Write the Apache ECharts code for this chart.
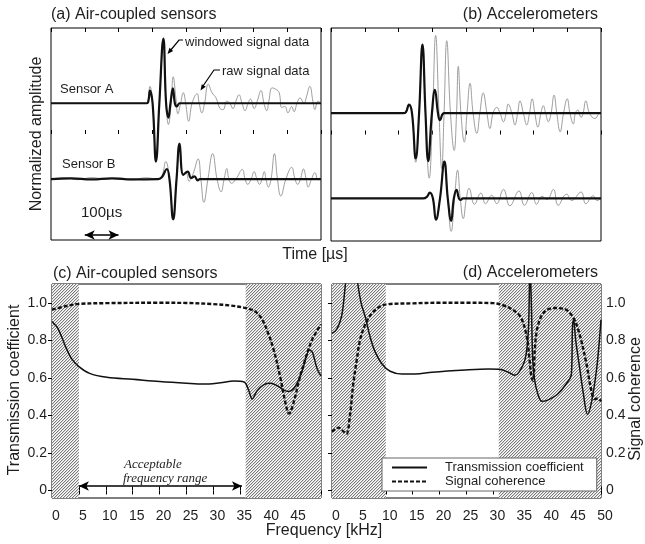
<!DOCTYPE html>
<html>
<head>
<meta charset="utf-8">
<title>Transmission coefficient</title>
<script src="https://cdn.jsdelivr.net/npm/echarts@6/dist/echarts.min.js"></script>
<style>html,body{margin:0;padding:0;background:#fff}#chart{width:645px;height:544px}</style>
</head>
<body>
<div id="chart"></div>
<script>
// time traces [µs, amplitude relative to the trace baseline]
const airWindowedA = [[0,0],[284,0],[289,0.03],[293,0.12],[301,0],[311,-0.55],[321,0],[333,0.61],[341,0],[348,-0.135],[354,0],[361,0.14],[367,0],[372,-0.03],[382,0],[800,0]];
const airRawA = [[0,0],[284,0],[293,0.16],[301,0],[311,-0.52],[321,0],[333,0.58],[341,0],[348,-0.2],[356,0],[362,0.25],[370,0.05],[376,-0.1],[384,0],[392,0.1],[399,0],[408,-0.17],[418,0],[433,0.09],[439,0],[447,-0.09],[455,0],[466,0.18],[477,0.1],[489,0.05],[501,-0.05],[510,-0.06],[521,0.02],[530,0],[539,-0.05],[548,0.02],[557,0.08],[566,0],[575,-0.07],[584,0],[591,0.04],[602,-0.05],[612,0.03],[622,0.12],[631,0],[639,-0.07],[646,0.03],[655,0.145],[667,0.13],[676,0.1],[684,-0.04],[693,-0.03],[702,-0.09],[713,-0.03],[720,-0.08],[729,0],[738,0.05],[750,0],[756,0.05],[767,0.16],[776,0.02],[782,-0.06],[791,0.02],[800,0]];
const airWindowedB = [[0,0],[60,0.006],[120,-0.004],[180,0.006],[240,-0.004],[318,0],[329,0.02],[343,0.095],[351,0],[362,-0.38],[372,0],[381,0.335],[392,0.04],[405,0.07],[415,0.01],[425,0.025],[435,-0.013],[441,0],[800,0]];
const airRawB = [[0,0],[40,0.012],[80,-0.006],[120,0.014],[160,0],[200,0.01],[240,-0.008],[280,0.012],[318,0],[329,0.03],[340,0.165],[351,0],[362,-0.38],[372,0],[381,0.335],[391,0.05],[400,0.06],[409,-0.02],[421,0.05],[436,0.19],[444,0],[453,-0.22],[465,0],[479,0.24],[492,0],[504,-0.12],[513,0],[521,0.1],[527,0],[535,-0.04],[548,0],[567,0.09],[575,0],[583,-0.05],[593,0],[602,0.07],[610,0],[618,-0.05],[625,0],[632,0.07],[637,0],[644,-0.075],[652,0],[662,0.24],[671,0],[681,-0.16],[696,0],[713,0.11],[723,0],[731,-0.05],[739,0],[748,0.095],[756,0],[762,-0.075],[772,0],[782,0.06],[791,0],[800,0.02]];

const accWindowedA = [[0,0],[214,0],[222,0.01],[231,0.08],[240,0],[251,-0.425],[261,0],[271,0.645],[280,0],[288,-0.45],[299,0],[308,0.22],[317,0],[323,-0.065],[336,0],[800,0]];
const accRawA = [[0,0],[213,0],[231,0.08],[240,0],[251,-0.46],[261,0],[271,0.645],[280,0],[291,-0.61],[301,0],[310,0.73],[320,0],[328,-0.52],[335,0],[343,0.68],[354,0],[365,-0.35],[372,0],[377,0.44],[385,0],[395,-0.27],[403,0],[412,0.28],[421,0],[432,-0.19],[441,0],[451,0.19],[462,0],[471,-0.145],[480,0],[491,0.055],[501,0],[511,-0.08],[519,0],[525,0.085],[536,0],[545,-0.11],[553,0],[560,0.115],[570,0],[580,-0.11],[588,0],[596,0.135],[604,0],[613,-0.13],[622,0],[629,0.07],[636,0],[644,-0.08],[652,0],[661,0.17],[669,0],[679,-0.175],[689,0],[700,0.135],[708,0],[718,-0.1],[724,0],[731,0.03],[741,-0.04],[747,0],[755,0.115],[766,0],[782,-0.05],[794,0],[800,0.02]];
const accWindowedB = [[0,0],[273,0],[284,0.015],[293,0.055],[302,0],[311,-0.2],[323,0],[336,0.345],[346,0],[356,-0.21],[364,0],[372,0.08],[379,0],[384,-0.015],[391,0],[800,0]];
const accRawB = [[0,0],[273,0],[284,0.015],[293,0.055],[302,0],[311,-0.2],[323,0],[336,0.345],[346,0],[356,-0.31],[366,0],[375,0.265],[383,0],[392,-0.19],[401,0],[409,0.095],[425,-0.055],[444,0.05],[458,-0.05],[476,0.03],[491,-0.05],[511,0.085],[530,-0.07],[557,0.07],[573,-0.065],[595,0.055],[609,-0.055],[625,0.02],[640,-0.01],[659,0.085],[673,-0.065],[698,0.04],[713,-0.02],[741,0.06],[755,-0.05],[777,0.025],[788,-0.02],[800,0]];

// baselines of the traces
const airBaseA = 0.29, airBaseB = -0.425, accBaseA = 0.2, accBaseB = -0.6;

// spectra [kHz, value]
const airTrans = [[0,0.9],[0.2,0.894],[1.1,0.864],[2.4,0.775],[3.6,0.704],[5,0.66],[7,0.624],[10.2,0.603],[15,0.592],[20,0.58],[25,0.571],[28.2,0.567],[31.3,0.574],[33.8,0.583],[35.7,0.578],[36.6,0.53],[37.2,0.487],[38.1,0.53],[39.4,0.564],[40.6,0.571],[41.9,0.558],[43.1,0.535],[44,0.528],[45.3,0.558],[46.5,0.638],[47.9,0.748],[48.4,0.736],[49.3,0.647],[50,0.61]];
const airCoh = [[0,0.963],[2.7,0.983],[5,0.994],[10,0.998],[20,1.0],[25,0.999],[30,0.993],[33.2,0.985],[35.65,0.974],[37.5,0.958],[38.8,0.923],[40,0.851],[41.25,0.745],[42.5,0.594],[43.3,0.478],[44.05,0.41],[45,0.478],[45.9,0.585],[47.2,0.71],[48.4,0.807],[50,0.885]];
const accTrans = [[0,0.837],[0.9,0.86],[1.8,0.93],[2.5,1.1],[2.9,1.2],[4.4,1.2],[4.8,1.1],[5.45,0.994],[6.2,0.923],[7.1,0.816],[8.05,0.736],[9.3,0.674],[10.8,0.635],[13,0.62],[15.5,0.62],[18.6,0.63],[24.8,0.642],[29.1,0.647],[31,0.646],[32.8,0.63],[33.95,0.614],[34.7,0.628],[35.9,0.7],[36.5,0.85],[36.8,1.2],[37.05,1.0],[37.3,0.7],[37.6,0.6],[38.2,0.52],[39,0.475],[40,0.48],[41.8,0.51],[43.6,0.57],[44.5,0.62],[44.7,0.87],[44.9,0.91],[45.3,0.8],[46,0.66],[46.7,0.52],[47.5,0.405],[48.3,0.48],[49.2,0.65],[49.7,0.8],[50,0.91]];
const accCoh = [[0,0.313],[1.2,0.335],[2.1,0.315],[2.7,0.302],[3.3,0.39],[3.96,0.57],[4.6,0.695],[5.2,0.8],[6.1,0.88],[7.4,0.944],[8.9,0.979],[10.2,0.992],[15,0.997],[20,1.0],[25,1.0],[30,0.998],[31.2,0.992],[33.1,0.971],[35,0.926],[36.2,0.82],[36.7,0.7],[37.1,0.6],[37.4,0.585],[37.7,0.75],[38.2,0.87],[39.4,0.95],[41.3,0.972],[43.2,0.967],[44.8,0.923],[46,0.834],[47.3,0.674],[48.2,0.532],[48.8,0.487],[49.4,0.49],[50,0.475]];

// excluded (hatched) frequency bands [from, to] kHz
const airBands = [[0,5],[36,50]];
const accBands = [[0,10],[31,50]];
const valueTicks = [0,0.2,0.4,0.6,0.8,1.0];

const FONT = 'Liberation Sans';
const TXT = '#1e1e1e';

function hatch() {
  let c = document.createElement('canvas');
  c.width = c.height = 3;
  let g = c.getContext('2d');
  g.fillStyle = '#fff'; g.fillRect(0, 0, 3, 3);
  for (let i = 0; i < 3; i++) {
    g.fillStyle = '#7a7a7a'; g.fillRect(i, 2 - i, 1, 1);
    g.fillStyle = '#d6d6d6'; g.fillRect((i + 1) % 3, 2 - i, 1, 1);
  }
  return c;
}
const hatchFill = { image: hatch(), repeat: 'repeat' };

function shift(arr, off) { return arr.map(p => [p[0], p[1] + off]); }

const tick = { show: true, inside: true, length: 4, lineStyle: { color: '#000' } };
function timeAxis(grid, pos) {
  return { type: 'value', gridIndex: grid, position: pos, min: 0, max: 800, interval: 100,
    axisLine: { show: false }, axisTick: tick, axisLabel: { show: false }, splitLine: { show: false } };
}
function freqAxis(grid, pos, labels, showMax) {
  return { type: 'value', gridIndex: grid, position: pos, min: 0, max: 50, interval: 5,
    axisLine: { show: false }, axisTick: tick, splitLine: { show: false },
    axisLabel: { show: labels, showMaxLabel: showMax, color: TXT, fontFamily: FONT, fontSize: 14, margin: 11, padding: [0, 0, 0, 8] } };
}
function ampAxis(grid) {
  return { type: 'value', gridIndex: grid, min: -1, max: 1, show: false };
}
function coefAxis(grid, pos, labels) {
  return { type: 'value', gridIndex: grid, position: pos, min: -0.04, max: 1.1,
    axisLine: { show: false }, splitLine: { show: false },
    axisTick: Object.assign({}, tick, { customValues: valueTicks }),
    axisLabel: { show: labels, customValues: valueTicks, color: TXT, fontFamily: FONT, fontSize: 14, margin: 5,
      formatter: v => v === 0 ? '0' : v.toFixed(1) } };
}

function trace(name, data, xi, yi, kind) {
  let raw = kind === 'raw';
  return { name: name, type: 'line', xAxisIndex: xi, yAxisIndex: yi, data: data, smooth: 0.45,
    showSymbol: false, symbol: 'none', z: raw ? 3 : 4, color: raw ? '#8a8a8a' : '#111',
    lineStyle: { color: raw ? '#8c8c8c' : '#111', width: raw ? 0.85 : 2.2 } };
}
function spectrum(name, data, xi, yi, dashed) {
  return { name: name, type: 'line', xAxisIndex: xi, yAxisIndex: yi, data: data, smooth: 0.35,
    showSymbol: false, symbol: 'none', z: 4, color: '#111',
    lineStyle: dashed ? { color: '#111', width: 2.4, type: [4, 2] } : { color: '#111', width: 1.5 } };
}
function bands(list, xi, yi) {
  return { type: 'line', xAxisIndex: xi, yAxisIndex: yi, data: [[0, -1]], symbol: 'none', z: 1, silent: true,
    lineStyle: { width: 0 },
    markArea: { silent: true, itemStyle: { color: hatchFill, opacity: 1, borderWidth: 0 },
      data: list.map(b => [{ xAxis: b[0] }, { xAxis: b[1] }]) } };
}
const arrowLine = { silent: true, symbol: ['arrow', 'arrow'], symbolSize: [7, 10], label: { show: false },
  lineStyle: { color: '#000', width: 1.5, type: 'solid' } };

let series = [
  trace('raw A (a)', shift(airRawA, airBaseA), 0, 0, 'raw'),
  trace('raw B (a)', shift(airRawB, airBaseB), 0, 0, 'raw'),
  Object.assign(trace('win A (a)', shift(airWindowedA, airBaseA), 0, 0, 'win'), {
    markLine: Object.assign({ data: [[{ coord: [100, -0.953] }, { coord: [200, -0.953] }]] }, arrowLine) }),
  trace('win B (a)', shift(airWindowedB, airBaseB), 0, 0, 'win'),
  trace('raw A (b)', shift(accRawA, accBaseA), 2, 1, 'raw'),
  trace('raw B (b)', shift(accRawB, accBaseB), 2, 1, 'raw'),
  trace('win A (b)', shift(accWindowedA, accBaseA), 2, 1, 'win'),
  trace('win B (b)', shift(accWindowedB, accBaseB), 2, 1, 'win'),
  bands(airBands, 4, 2),
  bands(accBands, 6, 4),
  Object.assign(spectrum('Transmission coefficient', airTrans, 4, 2, false), {
    markLine: Object.assign({ data: [[{ coord: [5, 0.024] }, { coord: [35.3, 0.024] }]] }, arrowLine) }),
  spectrum('Signal coherence', airCoh, 4, 2, true),
  spectrum('Transmission coefficient', accTrans, 6, 4, false),
  spectrum('Signal coherence', accCoh, 6, 4, true)
];

function label(text, x, y, opts) {
  opts = opts || {};
  return { type: 'text', x: x, y: y, rotation: opts.rot || 0, z: 10, silent: true,
    style: { text: text, fill: TXT, align: opts.align || 'left', verticalAlign: 'middle',
      font: (opts.style || '') + ' ' + (opts.size || 16) + 'px ' + (opts.family || '"Liberation Sans"') } };
}
function arrowHead(tip, from) {
  let dx = tip[0] - from[0], dy = tip[1] - from[1], l = Math.hypot(dx, dy);
  dx /= l; dy /= l;
  let bx = tip[0] - dx * 6, by = tip[1] - dy * 6;
  return { type: 'polygon', z: 10, silent: true, shape: { points: [tip, [bx + dy * 2.4, by - dx * 2.4], [bx - dy * 2.4, by + dx * 2.4]] },
    style: { fill: '#000' } };
}

let graphics = [
  label('(a) Air-coupled sensors', 51, 15),
  label('(b) Accelerometers', 598, 15, { align: 'right' }),
  label('(c) Air-coupled sensors', 53, 274),
  label('(d) Accelerometers', 598, 273, { align: 'right' }),
  label('Normalized amplitude', 37, 134, { rot: Math.PI / 2, align: 'center' }),
  label('Transmission coefficient', 15, 390, { rot: Math.PI / 2, align: 'center' }),
  label('Signal coherence', 636, 399, { rot: Math.PI / 2, align: 'center' }),
  label('Time [\u00b5s]', 315, 255, { align: 'center' }),
  label('Frequency [kHz]', 324, 531, { align: 'center' }),
  label('Sensor A', 60, 89, { size: 13 }),
  label('Sensor B', 62, 164, { size: 13 }),
  label('100\u00b5s', 81, 213, { size: 15 }),
  label('windowed signal data', 185, 42, { size: 13 }),
  label('raw signal data', 222, 71, { size: 13 }),
  label('Acceptable', 124, 465, { size: 13, style: 'italic', family: '"Liberation Serif"' }),
  label('frequency range', 123, 479, { size: 13, style: 'italic', family: '"Liberation Serif"' }),
  { type: 'polyline', z: 10, silent: true, shape: { points: [[183, 40], [179, 40], [170, 51]] }, style: { stroke: '#000', lineWidth: 1.2, fill: null } },
  arrowHead([167.5, 54], [179, 40]),
  { type: 'polyline', z: 10, silent: true, shape: { points: [[220, 70], [214, 70], [203, 86]] }, style: { stroke: '#000', lineWidth: 1.2, fill: null } },
  arrowHead([200.5, 90.5], [214, 70])
];

let myChart = echarts.init(document.getElementById('chart'), null, { renderer: 'canvas' });
let gridStyle = { show: true, borderColor: '#000', borderWidth: 1, containLabel: false, outerBoundsMode: 'none' };
let option = {
  animation: false,
  backgroundColor: '#fff',
  textStyle: { fontFamily: FONT },
  grid: [
    Object.assign({ left: 51, top: 28, width: 270, height: 212 }, gridStyle),
    Object.assign({ left: 331, top: 28, width: 270, height: 213 }, gridStyle),
    Object.assign({ left: 52, top: 284, width: 269, height: 214 }, gridStyle),
    Object.assign({ left: 332, top: 284, width: 269, height: 214 }, gridStyle)
  ],
  xAxis: [
    timeAxis(0, 'bottom'), timeAxis(0, 'top'),
    timeAxis(1, 'bottom'), timeAxis(1, 'top'),
    freqAxis(2, 'bottom', true, false), freqAxis(2, 'top', false, false),
    freqAxis(3, 'bottom', true, true), freqAxis(3, 'top', false, false)
  ],
  yAxis: [
    ampAxis(0), ampAxis(1),
    coefAxis(2, 'left', true), coefAxis(2, 'right', false),
    coefAxis(3, 'left', false), coefAxis(3, 'right', true)
  ],
  legend: {
    data: ['Transmission coefficient', 'Signal coherence'],
    orient: 'vertical', left: 382, top: 458, itemWidth: 35, itemHeight: 10, itemGap: 1,
    padding: [3, 13, 3, 9], borderColor: '#666', borderWidth: 1, backgroundColor: '#fff', borderRadius: 0,
    selectedMode: false,
    itemStyle: { opacity: 0 },
    textStyle: { color: TXT, fontFamily: FONT, fontSize: 13, padding: [0, 0, 0, 13] }
  },
  series: series,
  graphic: graphics
};
myChart.setOption(option);
</script>
</body>
</html>
